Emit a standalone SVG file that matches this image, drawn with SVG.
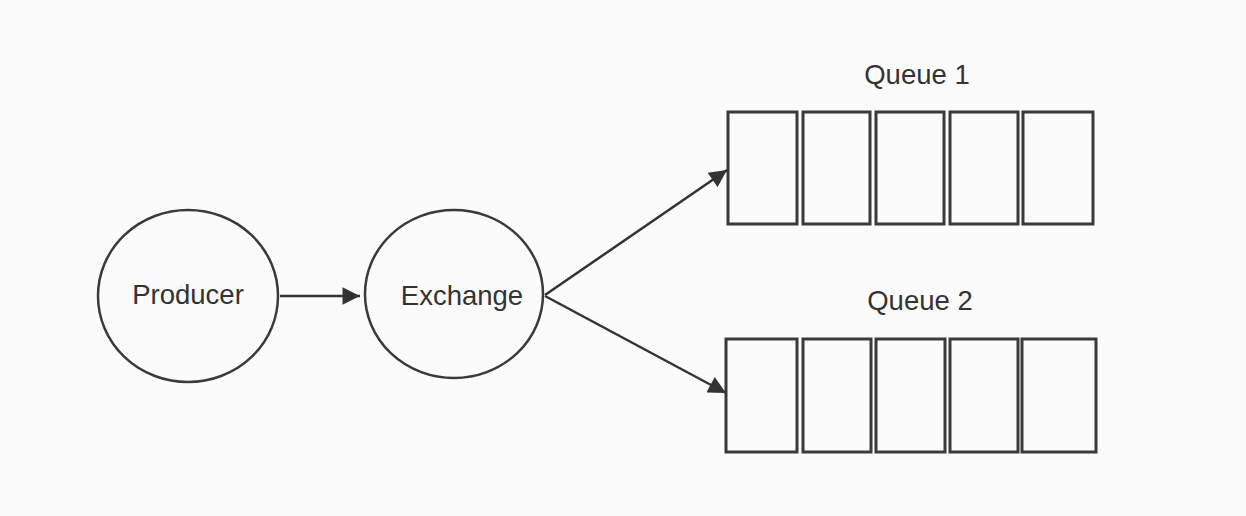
<svg xmlns="http://www.w3.org/2000/svg" width="1246" height="516" viewBox="0 0 1246 516">
<defs>
<style>
.node{fill:none;stroke:#3a3a3a;stroke-width:2.5}
.cell{fill:none;stroke:#3a3a3a;stroke-width:3}
.lbl{font-family:"Liberation Sans",Arial,sans-serif;font-size:27.5px;fill:#333;text-anchor:middle}
.edge{fill:none;stroke:#333;stroke-width:2.5}
</style>
<marker id="arr" viewBox="0 0 10 10" refX="10" refY="5" markerWidth="7.5" markerHeight="7" markerUnits="strokeWidth" orient="auto">
<path d="M0,0 L10,5 L0,10 z" fill="#333"/>
</marker>
</defs>
<rect width="1246" height="516" fill="#fbfbfb"/>
<g id="producer">
<ellipse class="node" cx="188" cy="296" rx="90" ry="86"/>
<text class="lbl" x="188" y="304">Producer</text>
</g>
<g id="exchange">
<ellipse class="node" cx="454" cy="294" rx="89" ry="84"/>
<text class="lbl" x="462" y="305">Exchange</text>
</g>
<g id="queue1">
<text class="lbl" x="917" y="84">Queue 1</text>
<rect class="cell" x="728" y="112" width="69" height="112"/>
<rect class="cell" x="803" y="112" width="67" height="112"/>
<rect class="cell" x="876" y="112" width="68" height="112"/>
<rect class="cell" x="950" y="112" width="68" height="112"/>
<rect class="cell" x="1023" y="112" width="70" height="112"/>
</g>
<g id="queue2">
<text class="lbl" x="920" y="310">Queue 2</text>
<rect class="cell" x="726" y="339" width="71" height="113"/>
<rect class="cell" x="803" y="339" width="68" height="113"/>
<rect class="cell" x="876" y="339" width="69" height="113"/>
<rect class="cell" x="950" y="339" width="68" height="113"/>
<rect class="cell" x="1022" y="339" width="74" height="113"/>
</g>
<g id="connectors">
<line class="edge" x1="280" y1="296" x2="360" y2="296" marker-end="url(#arr)"/>
<line class="edge" x1="545" y1="295" x2="727" y2="170" marker-end="url(#arr)"/>
<line class="edge" x1="545" y1="296" x2="726" y2="393" marker-end="url(#arr)"/>
</g>
</svg>
